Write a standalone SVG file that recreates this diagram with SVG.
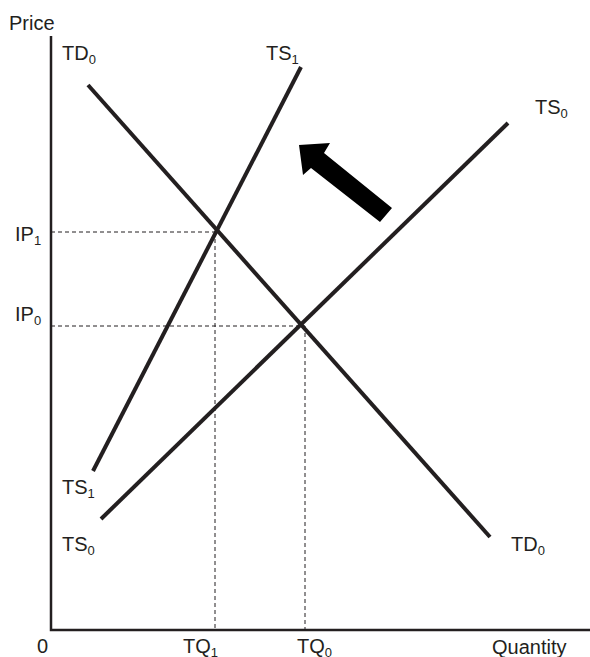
<svg xmlns="http://www.w3.org/2000/svg" width="590" height="657" viewBox="0 0 590 657">
<style>
text{font-family:"Liberation Sans",Arial,sans-serif;font-size:20px;fill:#231f20}
.sub{font-size:13px}
.curve{stroke:#231f20;stroke-width:4;fill:none}
.axis{stroke:#231f20;stroke-width:2.5;fill:none}
.dash{stroke:#231f20;stroke-width:1;stroke-dasharray:4,3;fill:none}
</style>
<rect width="590" height="657" fill="#fff"/>
<g id="axes">
<polyline class="axis" points="51,36 51,630 590,630"/>
<text x="9" y="30">Price</text>
<text x="37" y="653">0</text>
<text x="492" y="654">Quantity</text>
</g>
<g id="connectors">
<line class="dash" x1="51" y1="232" x2="215" y2="232"/>
<line class="dash" x1="215" y1="232" x2="215" y2="630"/>
<line class="dash" x1="51" y1="326" x2="305" y2="326"/>
<line class="dash" x1="305" y1="326" x2="305" y2="630"/>
</g>
<g id="TD0">
<line class="curve" x1="88" y1="85" x2="490" y2="537"/>
<text x="62" y="60">TD<tspan class="sub" dy="4">0</tspan></text>
<text x="511" y="551">TD<tspan class="sub" dy="4">0</tspan></text>
</g>
<g id="TS1">
<line class="curve" x1="93" y1="471" x2="301" y2="67"/>
<text x="266" y="60">TS<tspan class="sub" dy="4">1</tspan></text>
<text x="62" y="494">TS<tspan class="sub" dy="4">1</tspan></text>
</g>
<g id="TS0">
<line class="curve" x1="101" y1="519" x2="508" y2="123"/>
<text x="535" y="114">TS<tspan class="sub" dy="4">0</tspan></text>
<text x="62" y="551">TS<tspan class="sub" dy="4">0</tspan></text>
</g>
<g id="IP">
<text x="15" y="241">IP<tspan class="sub" dy="4">1</tspan></text>
<text x="15" y="321">IP<tspan class="sub" dy="4">0</tspan></text>
</g>
<g id="TQ">
<text x="183" y="653">TQ<tspan class="sub" dy="4">1</tspan></text>
<text x="297" y="653">TQ<tspan class="sub" dy="4">0</tspan></text>
</g>
<g id="arrow">
<polygon points="299,145 330,143 324,153 392,208 380,222 311,168 303,175" fill="#000"/>
</g>
</svg>
